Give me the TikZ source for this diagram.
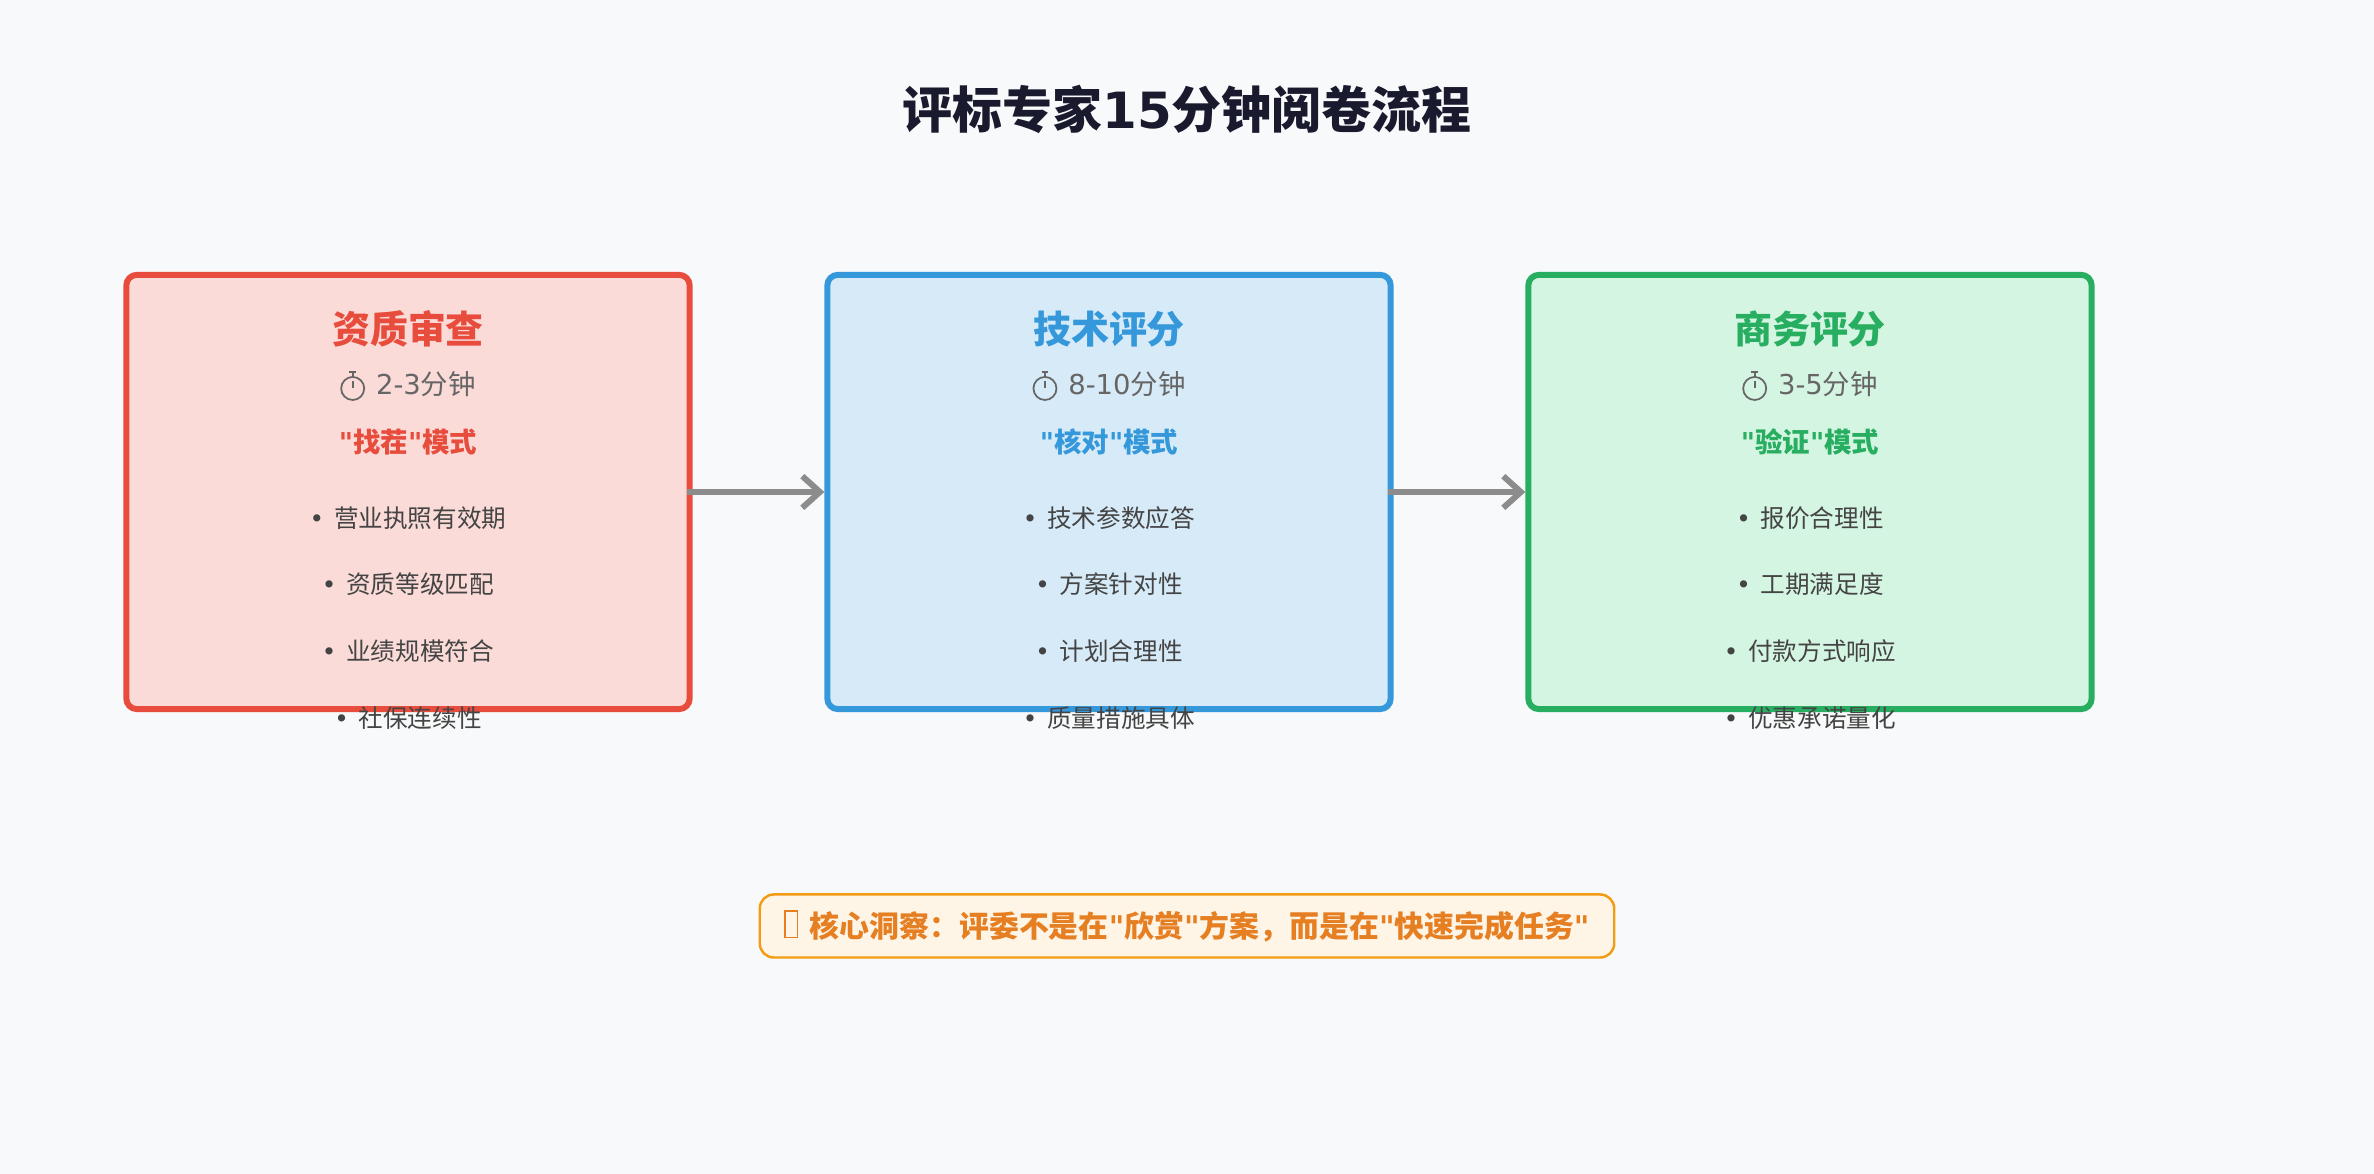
\documentclass[tikz,border=0pt]{standalone}
\usepackage{fontspec}
\setmainfont{Noto Sans CJK SC}
\newfontfamily\symfont{DejaVu Sans}
\usetikzlibrary{positioning,arrows.meta}
\definecolor{bgc}{HTML}{F8F9FA}
\definecolor{redc}{HTML}{E74C3C}
\definecolor{redf}{HTML}{FADBD8}
\definecolor{bluec}{HTML}{3498DB}
\definecolor{bluef}{HTML}{D6EAF8}
\definecolor{greenc}{HTML}{27AE60}
\definecolor{greenf}{HTML}{D5F5E3}
\definecolor{orgc}{HTML}{F39C12}
\definecolor{orgt}{HTML}{E67E22}
\definecolor{orgf}{HTML}{FEF5E7}
\definecolor{txtc}{HTML}{444444}
\definecolor{timec}{HTML}{666666}
\newcommand{\q}{{\symfont"}}
\newcommand{\bul}{{\symfont•}\hspace{0.4em}}
\newcommand{\watch}{\tikz[baseline=-0.1em,line width=0.5pt]{\draw(0,0.12em)circle(0.42em);\draw(0,0.54em)--(0,0.72em);\draw(-0.12em,0.72em)--(0.12em,0.72em);\draw(0,0.12em)--(0,0.4em);}\hspace{0.4em}}
\tikzset{
  stage/.style={draw=#1c,fill=#1f,line width=1.7pt,rounded corners=3pt,minimum width=5.63cm,minimum height=4.34cm},
  head/.style={font=\fontsize{10.8}{12}\selectfont\bfseries},
  time/.style={font=\fontsize{7.8}{9}\selectfont,text=timec},
  mode/.style={font=\fontsize{7.8}{9}\selectfont\bfseries},
  item/.style={font=\fontsize{7}{8}\selectfont,text=txtc},
  flow/.style={->,draw=gray!90,line width=1.7pt,>={Straight Barb[length=5pt,width=9pt]}}
}
\begin{document}
\begin{tikzpicture}[x=0.01cm,y=-0.01cm]
\fill[bgc](0,0)rectangle(2374,1174);
\useasboundingbox(0,0)rectangle(2374,1174);

\node[font=\fontsize{14.2}{16}\selectfont\bfseries,text={rgb,255:red,26;green,26;blue,46}](title)at(1187,109){评标专家{\symfont 15}分钟阅卷流程};

\node[stage=red](s1)at(408,492){};
\node[stage=blue](s2)at(1109,492){};
\node[stage=green](s3)at(1810,492){};

\node[head,text=redc](h1)at(408,329){资质审查};
\node[time](t1)at(408,386){\watch{\symfont 2-3}分钟};
\node[mode,text=redc](m1)at(408,442){\q 找茬\q 模式};
\node[item](a1)at(408,518){\bul 营业执照有效期};
\node[item](a2)at(408,584){\bul 资质等级匹配};
\node[item](a3)at(408,651){\bul 业绩规模符合};
\node[item](a4)at(408,718){\bul 社保连续性};

\node[head,text=bluec](h2)at(1109,329){技术评分};
\node[time](t2)at(1109,386){\watch{\symfont 8-10}分钟};
\node[mode,text=bluec](m2)at(1109,442){\q 核对\q 模式};
\node[item](b1)at(1109,518){\bul 技术参数应答};
\node[item](b2)at(1109,584){\bul 方案针对性};
\node[item](b3)at(1109,651){\bul 计划合理性};
\node[item](b4)at(1109,718){\bul 质量措施具体};

\node[head,text=greenc](h3)at(1810,329){商务评分};
\node[time](t3)at(1810,386){\watch{\symfont 3-5}分钟};
\node[mode,text=greenc](m3)at(1810,442){\q 验证\q 模式};
\node[item](c1)at(1810,518){\bul 报价合理性};
\node[item](c2)at(1810,584){\bul 工期满足度};
\node[item](c3)at(1810,651){\bul 付款方式响应};
\node[item](c4)at(1810,718){\bul 优惠承诺量化};

\draw[flow]([xshift=-1.5pt]s1.east)--(s2.west);
\draw[flow]([xshift=-1.5pt]s2.east)--(s3.west);

\node[draw=orgc,fill=orgf,line width=0.7pt,rounded corners=4pt,minimum width=8.54cm,minimum height=0.63cm,
      font=\fontsize{8.5}{9}\selectfont\bfseries,text=orgt](note)at(1187,926)
  {{\fboxsep=0pt\fboxrule=0.4pt\framebox[0.45em]{\rule{0pt}{0.85em}}}\hspace{0.4em}核心洞察：评委不是在\q 欣赏\q 方案，而是在\q 快速完成任务\q};
\end{tikzpicture}
\end{document}
